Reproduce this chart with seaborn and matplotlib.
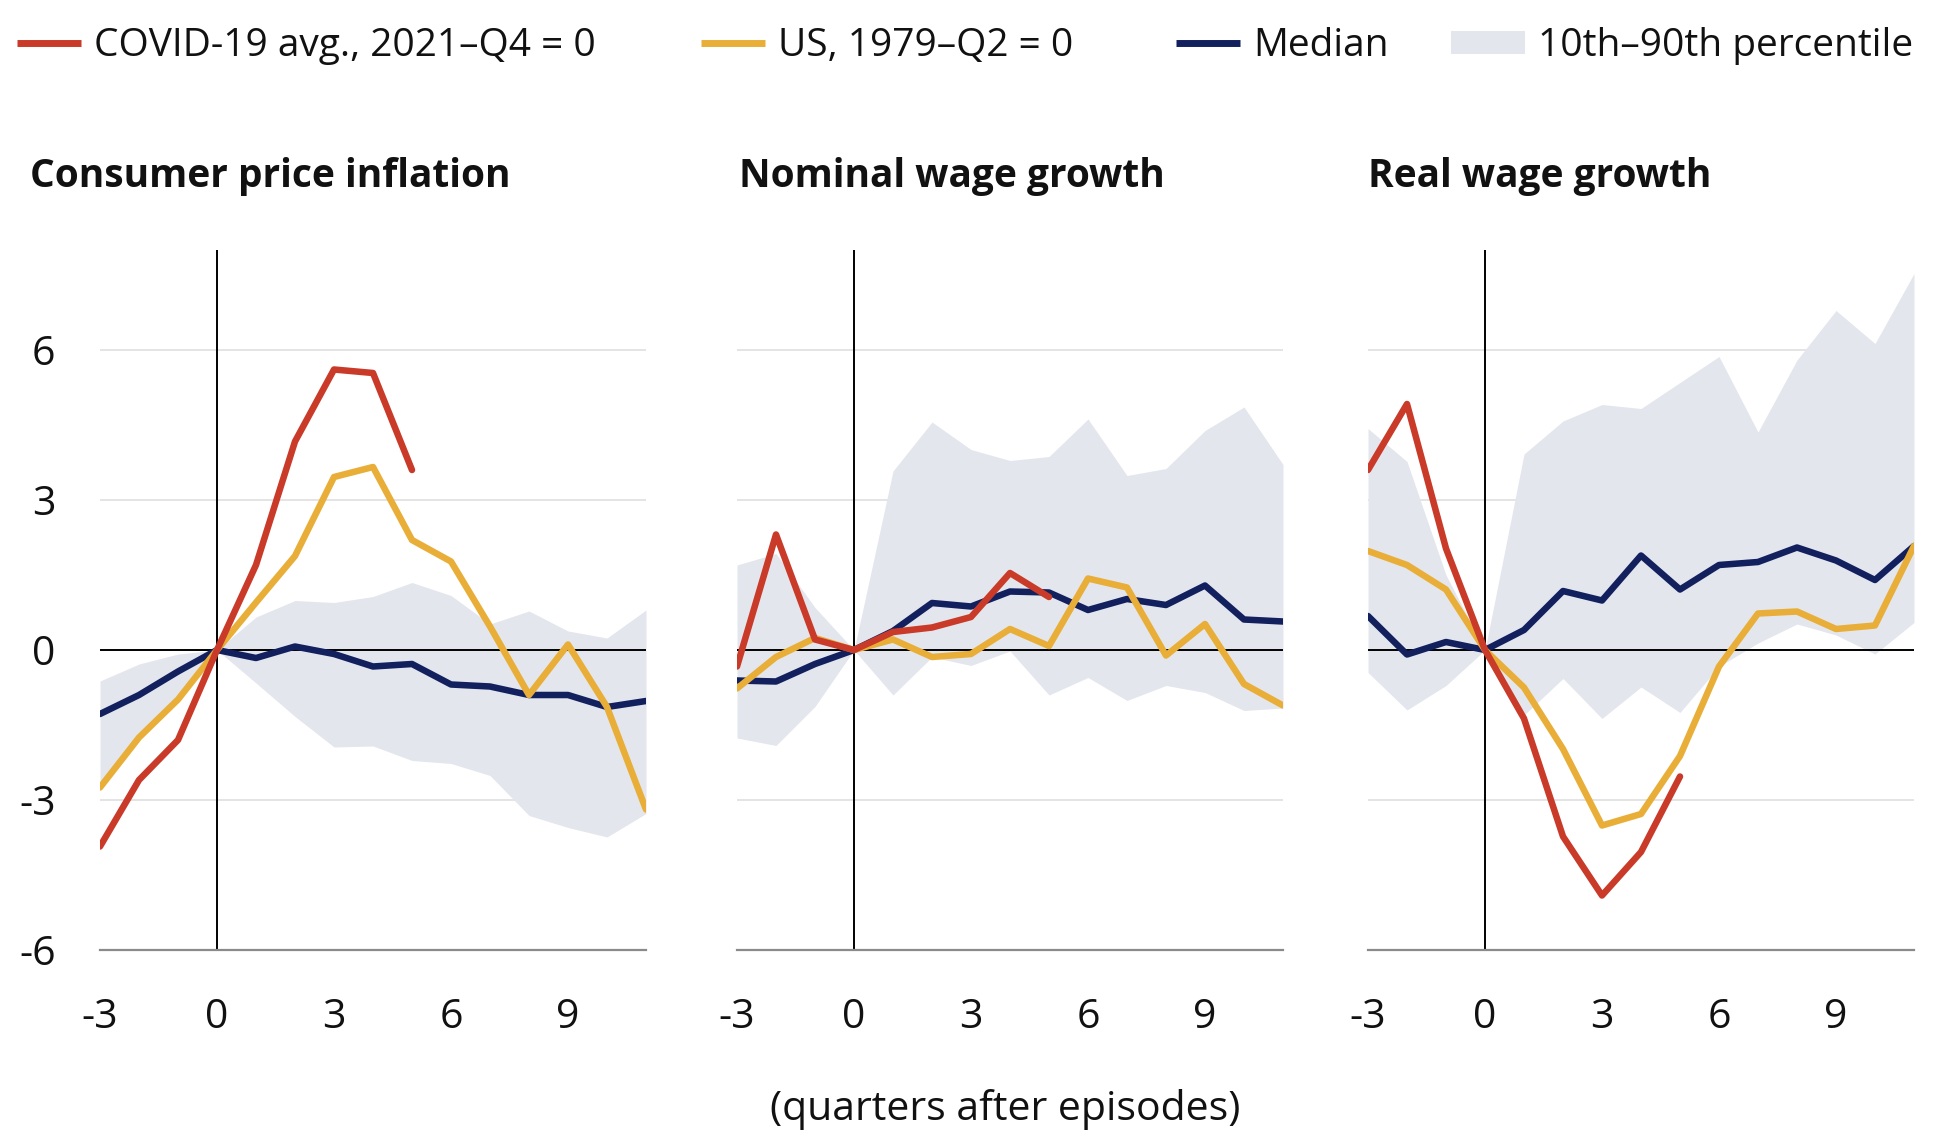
import numpy as np
import pandas as pd
import matplotlib
matplotlib.use("Agg")
import matplotlib.pyplot as plt
import seaborn as sns
from matplotlib.lines import Line2D
from matplotlib.patches import Patch

# ---------------- data ----------------
quarters = list(range(-3, 12))
covid_quarters = list(range(-3, 6))
xticks = [-3, 0, 3, 6, 9]
yticks = [-6, -3, 0, 3, 6]

titles = ["Consumer price inflation", "Nominal wage growth", "Real wage growth"]
series_names = ["Median", "US, 1979\u2013Q2 = 0", "COVID-19 avg., 2021\u2013Q4 = 0"]
band_name = "10th\u201390th percentile"

cpi_covid = [-3.93, -2.60, -1.80, 0.0, 1.70, 4.17, 5.61, 5.54, 3.60]
cpi_us = [-2.75, -1.75, -0.99, 0.0, 0.95, 1.88, 3.46, 3.66, 2.20, 1.77, 0.47, -0.90, 0.11, -1.14, -3.19]
cpi_med = [-1.28, -0.90, -0.43, 0.0, -0.16, 0.07, -0.08, -0.33, -0.28, -0.69, -0.73, -0.90, -0.90, -1.14, -1.02]
cpi_p90 = [-0.62, -0.28, -0.08, 0.0, 0.66, 0.99, 0.95, 1.07, 1.35, 1.09, 0.52, 0.78, 0.38, 0.24, 0.80]
cpi_p10 = [-2.70, -1.80, -0.95, 0.0, -0.66, -1.33, -1.94, -1.92, -2.21, -2.27, -2.51, -3.31, -3.55, -3.74, -3.27]

nom_covid = [-0.33, 2.31, 0.21, 0.0, 0.36, 0.45, 0.66, 1.54, 1.06]
nom_us = [-0.77, -0.14, 0.24, 0.0, 0.21, -0.14, -0.08, 0.42, 0.08, 1.43, 1.25, -0.11, 0.52, -0.68, -1.11]
nom_med = [-0.61, -0.63, -0.28, 0.0, 0.38, 0.94, 0.87, 1.17, 1.15, 0.80, 1.02, 0.90, 1.29, 0.61, 0.57]
nom_p90 = [1.70, 1.93, 0.85, 0.0, 3.58, 4.56, 4.01, 3.79, 3.87, 4.62, 3.49, 3.63, 4.39, 4.86, 3.71]
nom_p10 = [-1.76, -1.91, -1.13, 0.0, -0.90, -0.14, -0.31, -0.02, -0.90, -0.55, -1.01, -0.71, -0.85, -1.21, -1.16]

real_covid = [3.60, 4.92, 2.03, 0.0, -1.37, -3.73, -4.91, -4.04, -2.53]
real_us = [1.98, 1.70, 1.21, 0.0, -0.75, -1.98, -3.51, -3.28, -2.12, -0.33, 0.73, 0.77, 0.42, 0.49, 2.08]
real_med = [0.68, -0.09, 0.16, 0.0, 0.40, 1.18, 0.99, 1.89, 1.21, 1.70, 1.76, 2.05, 1.79, 1.40, 2.08]
real_p90 = [4.43, 3.77, 1.50, 0.0, 3.92, 4.58, 4.91, 4.83, 5.35, 5.87, 4.36, 5.80, 6.79, 6.13, 7.53]
real_p10 = [-0.45, -1.20, -0.71, 0.0, -1.30, -0.57, -1.37, -0.74, -1.25, -0.33, 0.14, 0.52, 0.30, -0.08, 0.55]

panels = [
    (cpi_med, cpi_us, cpi_covid, cpi_p10, cpi_p90),
    (nom_med, nom_us, nom_covid, nom_p10, nom_p90),
    (real_med, real_us, real_covid, real_p10, real_p90),
]

# ---------------- style ----------------
RED = "#C93A29"
YELLOW = "#E8AE38"
NAVY = "#12205E"
BAND = "#E4E6EE"
GRID = "#E2E2E2"
SPINE = "#8A8A8A"
TXT = "#111111"
palette = {series_names[0]: NAVY, series_names[1]: YELLOW, series_names[2]: RED}

sns.set_theme(style="white")
plt.rcParams["font.family"] = ["Open Sans", "DejaVu Sans"]
plt.rcParams["text.color"] = TXT

W, H = 1945, 1143
fig = plt.figure(figsize=(W / 100, H / 100), dpi=100)

ax_lefts = [100, 737, 1368]
ax_width = 546
ax_top, ax_bottom = 250, 950
title_x = [30, 739, 1368]

LW = 4.7
TICK_FS = 29.5

for i, (med, us, cov, p10, p90) in enumerate(panels):
    ax = fig.add_axes([ax_lefts[i] / W, 1 - ax_bottom / H, ax_width / W, (ax_bottom - ax_top) / H])
    rows = []
    for q, v in zip(quarters, med):
        rows.append((q, v, series_names[0]))
    for q, v in zip(quarters, us):
        rows.append((q, v, series_names[1]))
    for q, v in zip(covid_quarters, cov):
        rows.append((q, v, series_names[2]))
    df = pd.DataFrame(rows, columns=["quarter", "value", "series"])

    ax.fill_between(quarters, p10, p90, color=BAND, lw=0, zorder=1)
    ax.axhline(0, color="black", lw=1.4, zorder=2)
    ax.axvline(0, color="black", lw=1.4, zorder=2)
    sns.lineplot(data=df, x="quarter", y="value", hue="series", hue_order=series_names,
                 palette=palette, lw=LW, legend=False, ax=ax, zorder=3,
                 solid_capstyle="round", solid_joinstyle="round")

    ax.set_xlim(-3, 11)
    ax.set_ylim(-6, 8)
    ax.set_xticks(xticks)
    ax.set_xticklabels([str(t) for t in xticks])
    ax.set_yticks(yticks)
    ax.set_yticklabels([str(t) for t in yticks] if i == 0 else [])
    ax.yaxis.grid(True, color=GRID, lw=1.3)
    ax.xaxis.grid(False)
    ax.set_axisbelow(True)
    for s in ["top", "right", "left"]:
        ax.spines[s].set_visible(False)
    ax.spines["bottom"].set_color(SPINE)
    ax.spines["bottom"].set_linewidth(1.6)
    ax.tick_params(axis="x", direction="out", length=11, width=1.4, color=SPINE,
                   labelsize=TICK_FS, pad=23, labelcolor=TXT)
    ax.tick_params(axis="y", length=0, labelsize=TICK_FS, pad=32, labelcolor=TXT)
    ax.set_xlabel("")
    ax.set_ylabel("")

    fig.text(title_x[i] / W, 1 - 176 / H, titles[i], fontsize=28, fontweight="bold",
             ha="left", va="center", color=TXT)

fig.text(1005 / W, 1 - 1109 / H, "(quarters after episodes)", fontsize=29.5,
         ha="center", va="center", color=TXT)

# legend: one entry per legend so each sits where it does in the original
LEG_FS = 28
legend_items = [
    (Line2D([], [], color=RED, lw=LW + 0.3, solid_capstyle="butt"), series_names[2], 17, 1.65),
    (Line2D([], [], color=YELLOW, lw=LW + 0.3, solid_capstyle="butt"), series_names[1], 701, 1.65),
    (Line2D([], [], color=NAVY, lw=LW + 0.3, solid_capstyle="butt"), series_names[0], 1176, 1.65),
    (Patch(facecolor=BAND, edgecolor="none"), band_name, 1451, 1.9),
]
for h, lab, x0, hl in legend_items:
    fig.legend([h], [lab], loc="center left", bbox_to_anchor=(x0 / W, 1 - 46 / H),
               frameon=False, fontsize=LEG_FS, handlelength=hl, handleheight=0.55,
               handletextpad=0.33, borderpad=0, borderaxespad=0)

fig.savefig("out.png", dpi=100)
